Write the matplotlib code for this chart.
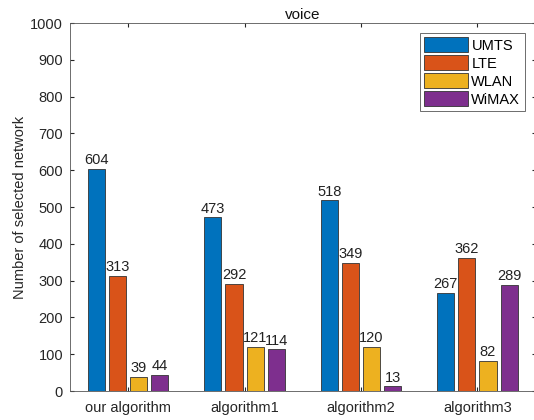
import numpy as np
import matplotlib
matplotlib.use("Agg")
import matplotlib.pyplot as plt

plt.rcParams['font.family'] = ['Liberation Sans', 'DejaVu Sans']

# data
groups = ["our algorithm", "algorithm1", "algorithm2", "algorithm3"]
networks = ["UMTS", "LTE", "WLAN", "WiMAX"]
umts = [604, 473, 518, 267]
lte = [313, 292, 349, 362]
wlan = [39, 121, 120, 82]
wimax = [44, 114, 13, 289]
yticks = [0, 100, 200, 300, 400, 500, 600, 700, 800, 900, 1000]

series = [umts, lte, wlan, wimax]
colors = ["#0072BD", "#D95319", "#EDB120", "#7E2F8E"]

fig = plt.figure(figsize=(5.34, 4.2), dpi=100)
ax = fig.add_axes([0.131, 0.069, 0.872, 0.876])

x = np.arange(1, len(groups) + 1)
pitch = 0.182
width = 0.147
for k, (vals, name, col) in enumerate(zip(series, networks, colors)):
    pos = x + (k - 1.5) * pitch
    ax.bar(pos, vals, width, color=col, edgecolor="#333333", linewidth=0.6, label=name)
    for p, v in zip(pos, vals):
        ax.text(p, v + 4, str(v), ha="center", va="bottom", fontsize=10.5, color="#222222")

ax.set_xlim(0.5, 4.5)
ax.set_ylim(0, 1000)
ax.set_xticks(x)
ax.set_xticklabels(groups)
ax.set_yticks(yticks)
ax.tick_params(direction="in", length=3, labelsize=10.5, colors="#262626", top=True, right=True)
ax.tick_params(axis="x", pad=7)
ax.tick_params(axis="y", pad=5)
for s in ax.spines.values():
    s.set_color("#555555")
    s.set_linewidth(0.6)

ax.set_ylabel("Number of selected network", fontsize=10.5, color="#262626", labelpad=2)
ax.set_title("voice", fontsize=11, color="#111111", pad=3)

leg = ax.legend(loc="upper left", bbox_to_anchor=(0.751, 0.973), fontsize=10.5,
                fancybox=False, framealpha=1, edgecolor="#555555",
                handlelength=3.0, handleheight=1.2, handletextpad=0.25,
                labelspacing=0.18, borderpad=0.3, borderaxespad=0)
leg.get_frame().set_linewidth(0.6)

fig.savefig("out.png", dpi=100)
